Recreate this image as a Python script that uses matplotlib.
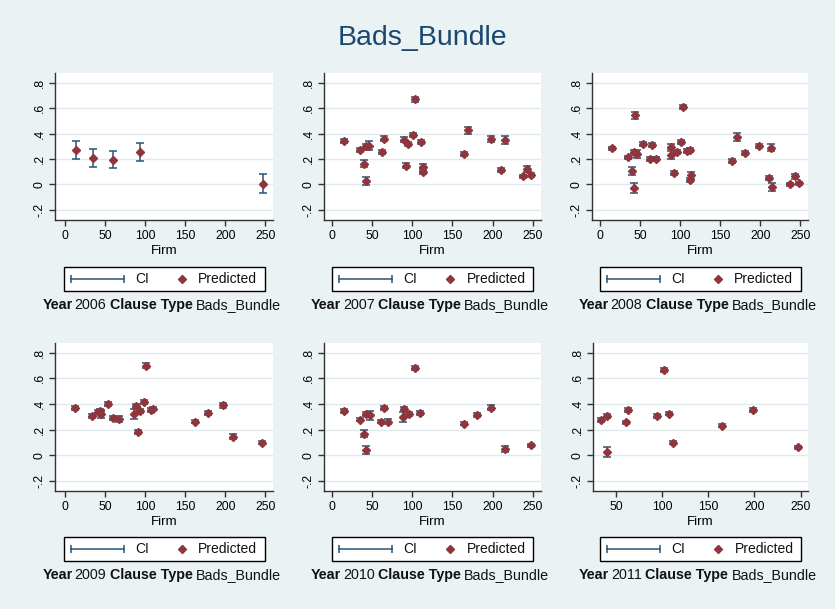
import matplotlib
matplotlib.use('Agg')
from matplotlib import pyplot as plt
from matplotlib.lines import Line2D
from matplotlib.patches import Rectangle

plt.rcParams['font.family'] = ['Liberation Sans', 'DejaVu Sans']

years = [2006, 2007, 2008, 2009, 2010, 2011]

# firm id, predicted value, CI half width
firm_2006 = [13, 34, 60, 93, 247]
pred_2006 = [0.272, 0.21, 0.195, 0.255, 0.005]
ci_2006 = [0.072, 0.07, 0.07, 0.072, 0.073]

firm_2007 = [14.6, 34.6, 40.4, 42, 42, 46, 61.7, 64.6, 89.6, 92.5, 95, 100.4,
             103, 111, 113, 113, 164.6, 170, 198, 210.4, 215, 237.5, 243, 248]
pred_2007 = [0.34, 0.27, 0.163, 0.029, 0.30, 0.305, 0.257, 0.36, 0.35, 0.145, 0.317, 0.39,
             0.67, 0.333, 0.134, 0.10, 0.236, 0.425, 0.357, 0.113, 0.349, 0.063, 0.123, 0.071]
ci_2007 = [0.018, 0.018, 0.025, 0.032, 0.02, 0.035, 0.015, 0.018, 0.02, 0.02, 0.015, 0.015,
           0.02, 0.018, 0.03, 0.02, 0.015, 0.03, 0.02, 0.015, 0.03, 0.012, 0.022, 0.015]

firm_2008 = [14.6, 34.6, 40, 41.7, 43.3, 41.7, 45, 45.8, 53.75, 61.7, 64, 69,
             88.75, 88.3, 92.5, 95.4, 100.4, 103.3, 108.75, 111.7, 112.9, 111.7,
             165, 170.4, 181, 198.3, 210.4, 213.3, 214.6, 236.7, 243, 248]
pred_2008 = [0.283, 0.212, 0.105, -0.026, 0.543, 0.257, 0.25, 0.24, 0.317, 0.2, 0.307, 0.197,
             0.296, 0.231, 0.087, 0.257, 0.333, 0.611, 0.265, 0.273, 0.071, 0.037,
             0.181, 0.372, 0.247, 0.304, 0.052, 0.289, -0.021, 0.0, 0.063, 0.01]
ci_2008 = [0.015, 0.015, 0.028, 0.04, 0.028, 0.015, 0.015, 0.032, 0.015, 0.015, 0.015, 0.015,
           0.02, 0.035, 0.015, 0.015, 0.015, 0.015, 0.015, 0.015, 0.03, 0.015,
           0.015, 0.03, 0.015, 0.015, 0.015, 0.03, 0.03, 0.012, 0.022, 0.012]

firm_2009 = [12.5, 33.75, 40.4, 43.3, 45, 53, 59.6, 67, 86, 88, 90.4, 93.3,
             98.3, 100.8, 107.5, 110, 162.5, 178.75, 197.5, 210, 246.25]
pred_2009 = [0.371, 0.304, 0.338, 0.343, 0.322, 0.4, 0.29, 0.28, 0.322, 0.382, 0.179, 0.348,
             0.416, 0.699, 0.353, 0.364, 0.262, 0.332, 0.39, 0.143, 0.096]
ci_2009 = [0.015, 0.015, 0.015, 0.015, 0.032, 0.015, 0.015, 0.022, 0.04, 0.015, 0.015, 0.015,
           0.015, 0.018, 0.015, 0.015, 0.012, 0.015, 0.018, 0.02, 0.012]

firm_2010 = [14.6, 34.6, 40.4, 42, 42.9, 46.7, 61.25, 64.2, 69.6, 88.3, 90, 95.4,
             103, 110, 164.6, 181.25, 198.3, 215, 248.3]
pred_2010 = [0.345, 0.278, 0.169, 0.039, 0.322, 0.312, 0.262, 0.371, 0.262, 0.296, 0.364, 0.322,
             0.68, 0.332, 0.247, 0.312, 0.371, 0.047, 0.078]
ci_2010 = [0.015, 0.015, 0.025, 0.03, 0.015, 0.035, 0.012, 0.015, 0.018, 0.04, 0.015, 0.015,
           0.018, 0.015, 0.012, 0.015, 0.018, 0.025, 0.012]

firm_2011 = [33.8, 40.6, 40.3, 60.5, 63, 94, 102.3, 107.7, 111.6, 165, 198, 247]
pred_2011 = [0.273, 0.306, 0.026, 0.257, 0.353, 0.306, 0.665, 0.322, 0.096, 0.229, 0.353, 0.062]
ci_2011 = [0.015, 0.012, 0.04, 0.012, 0.015, 0.012, 0.018, 0.012, 0.012, 0.012, 0.018, 0.012]

firms = [firm_2006, firm_2007, firm_2008, firm_2009, firm_2010, firm_2011]
preds = [pred_2006, pred_2007, pred_2008, pred_2009, pred_2010, pred_2011]
cis = [ci_2006, ci_2007, ci_2008, ci_2009, ci_2010, ci_2011]

y_ticks = [-0.2, 0, 0.2, 0.4, 0.6, 0.8]
y_tick_labels = ['-.2', '0', '.2', '.4', '.6', '.8']
x_ticks = [[0, 50, 100, 150, 200, 250]] * 5 + [[50, 100, 150, 200, 250]]

W, H = 835, 609
bg = '#EAF2F3'
ci_color = '#2A5274'
pt_color = '#90353B'


def fx(px):
    return px / W


def fy(py):
    return 1 - py / H


# plot boxes in pixels: left, top, right, bottom
boxes = [(55, 73, 273, 220), (324, 73, 541, 220), (592, 73, 808, 220),
         (55, 343, 273, 491), (324, 343, 541, 491), (593, 343, 808, 491)]
xlims = [(-13, 259.6), (-10, 260.4), (-10.4, 259.6),
         (-13, 259.6), (-10, 260.4), (25, 258)]

fig = plt.figure(figsize=(W / 100, H / 100), dpi=100, facecolor=bg)
fig.text(fx(422), fy(38), 'Bads_Bundle', ha='center', va='center',
         fontsize=20.5, color='#1A476F')

for i, (l, t, r, b) in enumerate(boxes):
    ax = fig.add_axes([fx(l), fy(b), (r - l) / W, (b - t) / H])
    ax.set_facecolor('white')
    lo = [p - c for p, c in zip(preds[i], cis[i])]
    hi = [p + c for p, c in zip(preds[i], cis[i])]
    ax.vlines(firms[i], lo, hi, color=ci_color, lw=1.1, zorder=2)
    ax.scatter(firms[i], lo, marker='_', s=28, color=ci_color, lw=1.1, zorder=2)
    ax.scatter(firms[i], hi, marker='_', s=28, color=ci_color, lw=1.1, zorder=2)
    ax.plot(firms[i], preds[i], 'D', ms=4.1, color=pt_color, zorder=3)

    ax.set_xlim(*xlims[i])
    ax.set_ylim(-0.28, 0.876)
    ax.set_xticks(x_ticks[i])
    ax.set_yticks(y_ticks)
    ax.set_yticklabels(y_tick_labels)
    for lab in ax.get_yticklabels():
        lab.set_rotation(90)
        lab.set_va('center')
    ax.tick_params(axis='both', length=4, width=1, color='#333333', labelsize=8.8)
    ax.tick_params(axis='x', pad=3.5)
    ax.tick_params(axis='y', pad=2.5)
    ax.yaxis.grid(True, color='#E0EAEC', lw=1)
    ax.set_axisbelow(True)
    for s in ['top', 'right']:
        ax.spines[s].set_visible(False)
    for s in ['left', 'bottom']:
        ax.spines[s].set_color('#333333')
        ax.spines[s].set_linewidth(1)
    ax.set_xlabel('Firm', fontsize=9.6, labelpad=2)

    # legend box drawn by hand, Stata style
    cx = (l + r) / 2
    ly = t + 205.7
    lx0 = cx - 100.5
    fig.add_artist(Rectangle((fx(lx0), fy(ly + 12)), 201 / W, 24 / H,
                             transform=fig.transFigure, facecolor='white',
                             edgecolor='black', lw=1))
    fig.add_artist(Line2D([fx(lx0 + 7), fx(lx0 + 60)], [fy(ly), fy(ly)],
                          transform=fig.transFigure, color=ci_color, lw=1.1,
                          marker='|', ms=6, mew=1.1))
    fig.text(fx(lx0 + 71.5), fy(ly), 'CI', ha='left', va='center',
             fontsize=10, color='#111111')
    fig.add_artist(Line2D([fx(lx0 + 118)], [fy(ly)], transform=fig.transFigure,
                          marker='D', ms=3.6, color=pt_color, lw=0))
    fig.text(fx(lx0 + 134.4), fy(ly), 'Predicted', ha='left', va='center',
             fontsize=10, color='#111111')

    # caption: Year xxxx Clause Type Bads_Bundle, mixed bold
    cy = t + 232
    t1 = fig.text(fx(cx - 121.5), fy(cy), 'Year', ha='left', va='center',
                  fontsize=10.3, fontweight='bold', color='#111111')
    t2 = ax.annotate(str(years[i]), xy=(1, 0), xycoords=t1, xytext=(1.3, 0),
                     textcoords='offset points', ha='left', va='bottom',
                     fontsize=10.3, color='#111111')
    t3 = ax.annotate('Clause Type', xy=(1, 0), xycoords=t2, xytext=(2.4, 0),
                     textcoords='offset points', ha='left', va='bottom',
                     fontsize=10.3, fontweight='bold', color='#111111')
    ax.annotate('Bads_Bundle', xy=(1, 0), xycoords=t3, xytext=(2.4, 0),
                textcoords='offset points', ha='left', va='bottom',
                fontsize=10.3, color='#111111')

plt.savefig('out.png', dpi=100, facecolor=bg)
